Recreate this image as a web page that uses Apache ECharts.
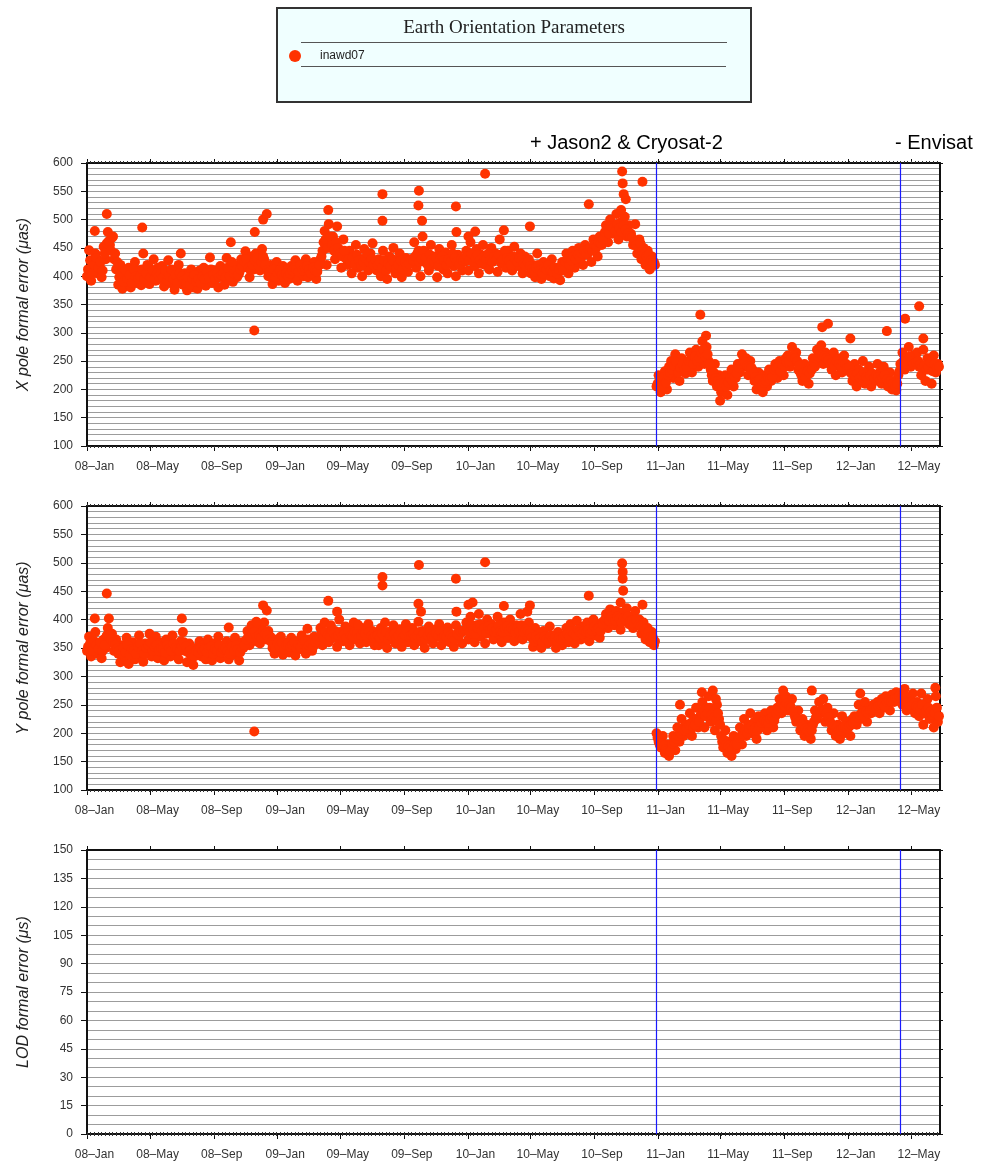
<!DOCTYPE html>
<html>
<head>
<meta charset="utf-8">
<title>Earth Orientation Parameters</title>
<script src="https://cdn.jsdelivr.net/npm/echarts@6/dist/echarts.min.js"></script>
<style>
  html, body { margin: 0; padding: 0; background: #ffffff; }
  #chart { width: 1001px; height: 1161px; }
</style>
</head>
<body>
<div id="chart"></div>
<script>
// ---------------------------------------------------------------------------
// Data: formal errors of the inawd07 EOP solution.
// Day numbers count from 2008-01-01. Each regular series holds one value every
// STEP days from its start day; the "B" series are the values two days later.
// Isolated points are listed as [day, value].
// ---------------------------------------------------------------------------
const SERIES_NAME = 'inawd07';
const STEP = 4;
const PRE_START_DAY = 0;      // 2008-01-01
const POST_START_DAY = 1093;  // 2010-12-29
const B_OFFSET = 2;
const AXIS_END_DAY = 1637;

const tickDates = ['2008-01-01', '2008-05-01', '2008-09-01', '2009-01-01', '2009-05-01',
  '2009-09-01', '2010-01-01', '2010-05-01', '2010-09-01', '2011-01-01', '2011-05-01',
  '2011-09-01', '2012-01-01', '2012-05-01'];
const tickLabels = ['08–Jan', '08–May', '08–Sep', '09–Jan', '09–May', '09–Sep', '10–Jan',
  '10–May', '10–Sep', '11–Jan', '11–May', '11–Sep', '12–Jan', '12–May'];

const eventDates = ['2010-12-28', '2012-04-09'];
const eventLabels = ['+ Jason2 & Cryosat-2', '- Envisat'];

// X pole formal error (µas), before the network change
const xPolePre = [
  400, 446, 392, 425, 440, 405, 418, 398, 452, 430,
  478, 455, 468, 430, 412,
  385, 420, 378, 405, 392, 415, 380, 400, 425, 388,
  410, 384, 440, 398, 420, 386, 405, 430, 392, 415,
  395, 418, 382, 402, 428, 388, 410, 376, 398, 420,
  440, 385, 405, 375, 395, 412, 380, 400, 378, 410,
  392, 415, 383, 405, 433, 388, 410, 396, 380, 418,
  400, 385, 432, 412, 460, 390, 420, 398,
  405, 430, 415, 444, 420, 398, 435, 412, 440, 425, 410, 448, 430, 418,
  400, 420, 386, 410, 425, 392, 405, 418, 388, 412,
  395, 418, 405, 428, 392, 412, 420, 400, 430, 398, 415, 408, 425, 395, 418, 430,
  445, 480, 420, 492, 455, 470, 430, 488, 445, 415, 465, 440,
  420, 445, 405, 435, 455, 415, 430, 400, 448, 425, 410, 440, 458, 420,
  410, 430, 400, 445, 420, 395, 435, 415, 450, 405, 425, 440, 398, 418, 432, 408, 428,
  430, 460, 415, 445, 400, 470, 425, 440, 410, 455, 420, 435, 398, 448, 428, 412, 442,
  405, 430, 455, 418, 400, 438, 425, 410,
  425, 445, 410, 460, 430, 418, 448, 405, 438, 455, 420, 432, 412, 450, 428, 440, 408,
  465, 422, 435, 415, 445, 430, 410, 452, 425, 418, 440, 405, 435, 420,
  430, 405, 420, 398, 440, 412, 395, 425, 408, 418, 400, 430, 396, 415, 405, 393, 425,
  420, 440, 405, 430, 445, 415, 425, 450, 432, 420, 455, 438, 445, 425, 465, 448, 435, 470, 455,
  470, 490, 460, 500, 475, 485, 510, 465, 495, 480, 505, 470, 490,
  475, 455, 492, 440, 465, 430, 450, 420, 445, 412, 435, 425
];
const xPolePreB = [
  412, 428, 405, 420, 432, 415, 425, 410, 440, 458,
  462, 445, 470, 440, 425,
  398, 405, 390, 410, 395, 402, 388, 412, 400, 395,
  400, 412, 395, 405, 418, 398, 410, 395, 405, 400,
  405, 398, 410, 392, 400, 412, 395, 402, 388, 405,
  400, 392, 388, 398, 385, 395, 402, 390, 395, 388,
  400, 395, 408, 398, 412, 402, 395, 405, 398, 402,
  405, 398, 415, 400, 425, 405, 410, 402,
  412, 418, 425, 430, 415, 410, 420, 428, 432, 418, 425, 435, 420, 410,
  408, 400, 412, 398, 405, 410, 402, 398, 405, 400,
  405, 410, 415, 412, 408, 420, 410, 415, 418, 412, 405, 415, 410, 408, 420, 435,
  460, 465, 450, 470, 455, 445, 460, 450, 440, 435, 445, 430,
  430, 425, 432, 420, 438, 428, 418, 425, 432, 440, 425, 430, 420, 428,
  420, 425, 415, 428, 410, 422, 418, 430, 425, 415, 420, 428, 412, 425, 418, 422, 430,
  428, 435, 440, 425, 430, 445, 432, 420, 438, 430, 425, 432, 418, 430, 435, 428, 420,
  430, 425, 440, 432, 425, 420, 430, 428,
  430, 435, 428, 440, 425, 432, 438, 428, 422, 435, 430, 440, 428, 425, 435, 430, 438,
  425, 430, 445, 432, 428, 420, 435, 430, 425, 432, 428, 422, 418, 425,
  418, 412, 408, 415, 420, 410, 405, 415, 412, 420, 410, 408, 415, 405, 412, 418, 410,
  425, 430, 420, 428, 435, 430, 438, 432, 440, 445, 440, 448, 450, 445, 455, 452, 460, 458, 465,
  478, 482, 475, 488, 485, 480, 492, 485, 478, 490, 482, 475, 470,
  468, 460, 455, 450, 458, 445, 440, 435, 438, 428, 425, 420
];
// X pole formal error (µas), after the network change
const xPolePost = [
  205, 225, 195, 215, 232, 200, 240,
  250, 220, 262, 235, 215, 255, 240, 228,
  245, 265, 230, 255, 270, 240,
  260, 285, 245, 275, 250,
  235, 215, 245, 205, 225, 195,
  200, 225, 190, 215, 235, 205, 220,
  245, 230, 262, 240, 255, 225, 250, 235,
  215, 200, 230, 210, 195, 225, 205, 235, 215,
  230, 245, 220, 250, 235, 225, 255,
  260, 240, 275, 250, 265, 235,
  230, 215, 245, 225, 210, 240,
  255, 240, 270, 250, 278, 245, 265, 255,
  250, 235, 265, 225, 255, 240, 230, 260, 245, 235,
  230, 215, 245, 205, 235, 220, 250, 210, 228, 240, 205, 225, 215, 245, 230, 210,
  240, 220, 205, 230, 200, 215, 198,
  225, 245, 265, 235, 255, 275, 240, 260, 250,
  265, 240, 225, 270, 215, 255, 235, 210, 260, 230, 245
];
const xPolePostB = [
  210, 218, 205, 222, 212, 225, 230,
  235, 242, 248, 230, 238, 245, 235, 240,
  250, 252, 245, 258, 250, 255,
  265, 270, 258, 262, 245,
  225, 230, 220, 215, 210, 205,
  210, 205, 212, 220, 215, 222, 228,
  238, 245, 250, 248, 242, 240, 238, 228,
  222, 215, 218, 205, 212, 215, 220, 218, 222,
  235, 238, 240, 232, 242, 240, 248,
  250, 258, 260, 255, 250, 242,
  225, 230, 222, 232, 228, 235,
  248, 255, 258, 262, 260, 258, 255, 252,
  245, 248, 242, 250, 245, 240, 248, 245, 238, 240,
  228, 225, 222, 228, 220, 225, 230, 222, 218, 225, 228, 220, 225, 222, 218, 220,
  225, 218, 212, 215, 210, 205, 210,
  232, 240, 250, 245, 250, 258, 250, 245, 248,
  250, 245, 238, 242, 235, 240, 248, 232, 245, 238, 240
];
const xPoleIsolated = [
  [15, 480], [38, 510], [106, 486], [321, 304], [322, 478], [338, 500], [345, 510],
  [463, 517], [567, 545], [567, 498], [636, 525], [637, 551], [643, 498], [708, 523],
  [709, 478], [732, 470], [745, 479], [764, 581], [800, 481], [850, 488], [963, 527],
  [1025, 517], [1027, 585], [1028, 564], [1030, 545], [1034, 536], [1066, 567],
  [1177, 332], [1188, 295], [1215, 180], [1411, 310], [1422, 316], [1465, 290],
  [1535, 303], [1570, 325], [1597, 347], [1605, 290]
];

// Y pole formal error (µas), before the network change
const yPolePre = [
  345, 370, 335, 360, 378, 340, 355, 332, 365, 350,
  385, 360, 375, 345, 365,
  340, 325, 355, 335, 368, 322, 345, 360, 330, 350, 372, 338, 326, 358, 345, 375, 335,
  350, 370, 332, 360, 342, 328, 365, 348, 335, 372, 340, 355, 330, 362, 378,
  345, 325, 358, 335, 320, 350, 340, 362,
  335, 355, 330, 365, 345, 328, 358, 340, 370, 332, 350, 345, 362, 330, 355, 338, 368,
  342, 328, 360, 350,
  360, 380, 355, 390, 370, 362, 385, 358, 375, 395, 365, 380, 370,
  350, 340, 365, 345, 370, 338, 355, 360, 342, 368, 350, 337, 362, 348, 372, 355, 340,
  365, 350, 345, 370, 358,
  365, 385, 355, 395, 372, 360, 390, 368, 380, 352, 400, 375, 362, 388, 370, 355, 382,
  395, 365, 378, 358, 385, 372, 360, 392, 368, 380, 355,
  370, 355, 385, 362, 395, 350, 378, 365, 390, 358, 372, 383, 352, 368, 392, 360, 375,
  385, 355, 370, 396, 362, 380, 350, 375, 388, 365, 358, 382, 370, 392, 355, 378, 365,
  386, 360, 372, 352, 390, 368, 380, 358,
  380, 395, 365, 405, 375, 360, 390, 410, 370, 385, 358, 400, 378, 392, 365, 382, 405,
  372, 360, 395, 385, 368, 400, 378, 362, 390, 375, 410, 365, 385, 372, 395,
  370, 352, 385, 360, 375, 350, 380, 365, 358, 388, 362, 372, 350, 378, 365, 355,
  365, 385, 360, 392, 372, 358, 398, 378, 365, 388, 370, 395, 362, 380, 400, 372, 385, 368, 395,
  395, 410, 385, 418, 400, 390, 415, 405, 382, 412, 398, 420, 392,
  405, 385, 415, 392, 400, 375, 395, 365, 385, 360, 378, 355
];
const yPolePreB = [
  352, 358, 345, 362, 355, 348, 360, 345, 355, 372,
  372, 365, 360, 355, 350,
  345, 340, 350, 342, 355, 338, 348, 345, 340, 352, 358, 345, 340, 350, 355, 360, 345,
  352, 355, 345, 350, 348, 342, 355, 350, 345, 358, 350, 348, 345, 352, 360,
  352, 342, 345, 338, 335, 345, 342, 350,
  345, 348, 342, 350, 352, 340, 348, 345, 355, 342, 348, 350, 345, 340, 352, 345, 355,
  348, 342, 350, 355,
  365, 372, 368, 375, 378, 370, 372, 368, 380, 375, 372, 365, 360,
  355, 350, 358, 352, 360, 348, 355, 358, 352, 355, 360, 350, 355, 352, 358, 362, 350,
  355, 358, 352, 360, 365,
  370, 375, 368, 378, 372, 370, 380, 375, 368, 372, 378, 370, 375, 368, 380, 372, 370,
  378, 375, 368, 372, 380, 375, 370, 378, 372, 368, 370,
  372, 368, 375, 370, 378, 365, 372, 370, 375, 368, 372, 378, 368, 372, 380, 370, 372,
  375, 368, 372, 378, 370, 375, 365, 372, 378, 370, 368, 375, 372, 380, 368, 372, 370,
  378, 372, 368, 365, 375, 372, 378, 380,
  382, 385, 378, 390, 382, 375, 385, 392, 380, 385, 375, 388, 382, 385, 378, 382, 390,
  380, 378, 385, 388, 380, 385, 382, 378, 385, 380, 390, 378, 382, 380, 375,
  368, 362, 370, 365, 368, 360, 370, 365, 362, 372, 365, 368, 362, 368, 365, 368,
  372, 375, 370, 380, 375, 372, 382, 378, 375, 380, 378, 382, 375, 380, 388, 382, 385, 380, 392,
  400, 402, 398, 405, 400, 398, 405, 402, 395, 402, 400, 405, 398,
  398, 392, 400, 390, 388, 385, 382, 375, 378, 370, 368, 362
];
// Y pole formal error (µas), after the network change
const yPolePost = [
  200, 185, 175, 195, 165, 180, 160,
  175, 195, 170, 210, 185, 225, 195, 215,
  205, 235, 195, 225, 245, 210,
  230, 255, 210, 245, 265, 220, 240, 205, 250, 225,
  195, 175, 205, 165, 185, 160, 195, 172,
  185, 210, 180, 225, 195, 215, 235, 200, 220, 190, 230, 210,
  215, 235, 205, 225, 240, 210, 230,
  245, 260, 235, 255, 265, 240, 250, 260,
  235, 220, 240, 205, 225, 195, 215, 200, 190,
  215, 240, 225, 255, 235, 260, 220, 245,
  225, 205, 235, 195, 215, 190, 230, 200, 220, 210, 195, 225,
  230, 215, 250, 225, 240, 255, 220, 245, 235, 250,
  240, 255, 235, 260, 245, 265, 250, 240, 268, 255, 272, 260,
  270, 250, 278, 240, 260, 245, 270, 235,
  255, 230, 270, 215, 245, 260, 225, 240, 210, 265, 220
];
const yPolePostB = [
  192, 180, 182, 178, 172, 170, 168,
  182, 185, 190, 195, 200, 205, 205, 208,
  215, 218, 210, 215, 225, 220,
  235, 240, 230, 235, 245, 232, 228, 222, 235, 215,
  185, 188, 180, 178, 175, 172, 180, 180,
  192, 195, 198, 205, 200, 208, 212, 205, 210, 205, 212, 218,
  222, 220, 218, 225, 228, 222, 235,
  240, 245, 250, 248, 252, 248, 245, 238,
  228, 225, 220, 215, 212, 208, 205, 202, 205,
  220, 228, 232, 238, 242, 240, 235, 228,
  218, 215, 212, 210, 205, 205, 210, 212, 208, 212, 215, 218,
  222, 228, 232, 235, 230, 238, 235, 240, 242, 245,
  245, 248, 250, 252, 248, 255, 258, 255, 258, 262, 262, 265,
  262, 258, 265, 255, 250, 255, 252, 248,
  245, 242, 250, 235, 240, 245, 238, 232, 235, 245, 230
];
const yPoleIsolated = [
  [15, 402], [38, 446], [42, 402], [182, 402], [272, 386], [321, 203], [325, 396],
  [338, 425], [345, 416], [423, 384], [463, 433], [480, 414], [520, 391], [567, 475],
  [567, 460], [636, 428], [637, 496], [641, 414], [708, 472], [709, 414], [732, 426],
  [740, 430], [764, 501], [800, 424], [845, 414], [850, 425], [963, 442], [1024, 430],
  [1027, 499], [1028, 484], [1028, 472], [1029, 451], [1066, 426],
  [1138, 250], [1180, 272], [1201, 275], [1207, 260], [1336, 275], [1391, 275],
  [1484, 270], [1628, 280]
];

// LOD formal error (µs): no values in this period
const lodValues = [];

// ---------------------------------------------------------------------------
const DAY_MS = 86400000;
const ORIGIN = Date.UTC(2008, 0, 1);
function dayOf(iso) {
  return Math.round((Date.parse(iso + 'T00:00:00Z') - ORIGIN) / DAY_MS);
}
function sampled(startDay, values) {
  return values.map((v, i) => [startDay + i * STEP, v]);
}

const tickDays = tickDates.map(dayOf);
const eventDays = eventDates.map(dayOf);
const minorTickDays = [];
for (let d = 0; d <= AXIS_END_DAY; d += 7) minorTickDays.push(d);

const panels = [
  {
    name: 'X pole formal error (μas)', min: 100, max: 600, interval: 50, minor: 5,
    data: [].concat(
      sampled(PRE_START_DAY, xPolePre), sampled(PRE_START_DAY + B_OFFSET, xPolePreB),
      sampled(POST_START_DAY, xPolePost), sampled(POST_START_DAY + B_OFFSET, xPolePostB),
      xPoleIsolated)
  },
  {
    name: 'Y pole formal error (μas)', min: 100, max: 600, interval: 50, minor: 5,
    data: [].concat(
      sampled(PRE_START_DAY, yPolePre), sampled(PRE_START_DAY + B_OFFSET, yPolePreB),
      sampled(POST_START_DAY, yPolePost), sampled(POST_START_DAY + B_OFFSET, yPolePostB),
      yPoleIsolated)
  },
  {
    name: 'LOD formal error (μs)', min: 0, max: 150, interval: 15, minor: 3,
    data: lodValues
  }
];

const grids = [
  { left: 87, top: 163, width: 853, height: 283 },
  { left: 87, top: 506, width: 853, height: 284 },
  { left: 87, top: 850, width: 853, height: 284 }
];

const FRAME = { show: true, onZero: false, lineStyle: { color: '#111', width: 2 } };
const TICK_FONT = 'Liberation Sans';
const GRID_LINE = { color: '#9c9c9c', width: 1.2 };

const xAxes = [];
const yAxes = [];
const series = [];

panels.forEach((p, g) => {
  const xBase = { gridIndex: g, type: 'value', min: 0, max: AXIS_END_DAY, splitLine: { show: false } };
  // bottom: major ticks with labels
  xAxes.push(Object.assign({}, xBase, {
    position: 'bottom',
    axisLine: FRAME,
    axisTick: { show: true, customValues: tickDays, length: 5, lineStyle: { color: '#111', width: 1 } },
    axisLabel: {
      show: true, customValues: tickDays, margin: 15,
      fontFamily: TICK_FONT, fontSize: 12, color: '#333', padding: [0, 0, 0, 15],
      formatter: v => tickLabels[tickDays.indexOf(Math.round(v))] || ''
    }
  }));
  // bottom: weekly minor ticks
  xAxes.push(Object.assign({}, xBase, {
    position: 'bottom',
    axisLine: { show: false },
    axisTick: { show: true, customValues: minorTickDays, length: 2, lineStyle: { color: '#333', width: 1 } },
    axisLabel: { show: false }
  }));
  // top: major ticks
  xAxes.push(Object.assign({}, xBase, {
    position: 'top',
    axisLine: FRAME,
    axisTick: { show: true, customValues: tickDays, length: 4, lineStyle: { color: '#111', width: 1 } },
    axisLabel: { show: false }
  }));
  // top: weekly minor ticks
  xAxes.push(Object.assign({}, xBase, {
    position: 'top',
    axisLine: { show: false },
    axisTick: { show: true, customValues: minorTickDays, length: 2, lineStyle: { color: '#333', width: 1 } },
    axisLabel: { show: false }
  }));

  const yBase = { gridIndex: g, type: 'value', min: p.min, max: p.max, interval: p.interval };
  yAxes.push(Object.assign({}, yBase, {
    position: 'left',
    name: p.name,
    nameLocation: 'middle',
    nameGap: 55,
    nameRotate: 90,
    nameTextStyle: { fontFamily: TICK_FONT, fontStyle: 'italic', fontSize: 16, color: '#222' },
    axisLine: FRAME,
    axisTick: { show: true, length: 6, lineStyle: { color: '#111', width: 1 } },
    axisLabel: { show: true, margin: 14, fontFamily: TICK_FONT, fontSize: 12, color: '#333' },
    splitLine: { show: true, lineStyle: GRID_LINE },
    minorTick: { show: false, splitNumber: p.minor },
    minorSplitLine: { show: true, lineStyle: GRID_LINE }
  }));
  yAxes.push(Object.assign({}, yBase, {
    position: 'right',
    axisLine: FRAME,
    axisTick: { show: true, length: 3, lineStyle: { color: '#111', width: 1 } },
    axisLabel: { show: false },
    splitLine: { show: false }
  }));

  series.push({
    name: SERIES_NAME,
    type: 'scatter',
    xAxisIndex: g * 4,
    yAxisIndex: g * 2,
    data: p.data,
    symbol: 'circle',
    symbolSize: 10,
    itemStyle: { color: '#ff3300', opacity: 1 },
    silent: true,
    z: 3,
    markLine: {
      silent: true,
      symbol: 'none',
      label: { show: false },
      lineStyle: { color: '#1a1aff', width: 1.2, type: 'solid' },
      data: eventDays.map(d => ({ xAxis: d }))
    }
  });
});

const chart = echarts.init(document.getElementById('chart'), null, { renderer: 'canvas' });
chart.setOption({
  animation: false,
  backgroundColor: '#ffffff',
  grid: grids,
  xAxis: xAxes,
  yAxis: yAxes,
  series: series,
  graphic: [
    // legend panel
    { type: 'rect', shape: { x: 277, y: 8, width: 474, height: 94 },
      style: { fill: '#f0ffff', stroke: '#333', lineWidth: 2 }, silent: true },
    { type: 'text', x: 514, y: 28,
      style: { text: 'Earth Orientation Parameters', font: '19px "Liberation Serif"',
        fill: '#222', align: 'center', verticalAlign: 'middle' }, silent: true },
    { type: 'line', shape: { x1: 301, y1: 42.5, x2: 727, y2: 42.5 },
      style: { stroke: '#555', lineWidth: 1 }, silent: true },
    { type: 'circle', shape: { cx: 295, cy: 56, r: 6 },
      style: { fill: '#ff3300' }, silent: true },
    { type: 'text', x: 320, y: 56,
      style: { text: SERIES_NAME, font: '12px "Liberation Sans"', fill: '#222',
        align: 'left', verticalAlign: 'middle' }, silent: true },
    { type: 'line', shape: { x1: 301, y1: 66.5, x2: 726, y2: 66.5 },
      style: { stroke: '#555', lineWidth: 1 }, silent: true },
    // network change annotations
    { type: 'text', x: 530, y: 143,
      style: { text: eventLabels[0], font: '20px "Liberation Sans"', fill: '#000',
        align: 'left', verticalAlign: 'middle' }, silent: true },
    { type: 'text', x: 895, y: 143,
      style: { text: eventLabels[1], font: '20px "Liberation Sans"', fill: '#000',
        align: 'left', verticalAlign: 'middle' }, silent: true }
  ]
});
</script>
</body>
</html>
